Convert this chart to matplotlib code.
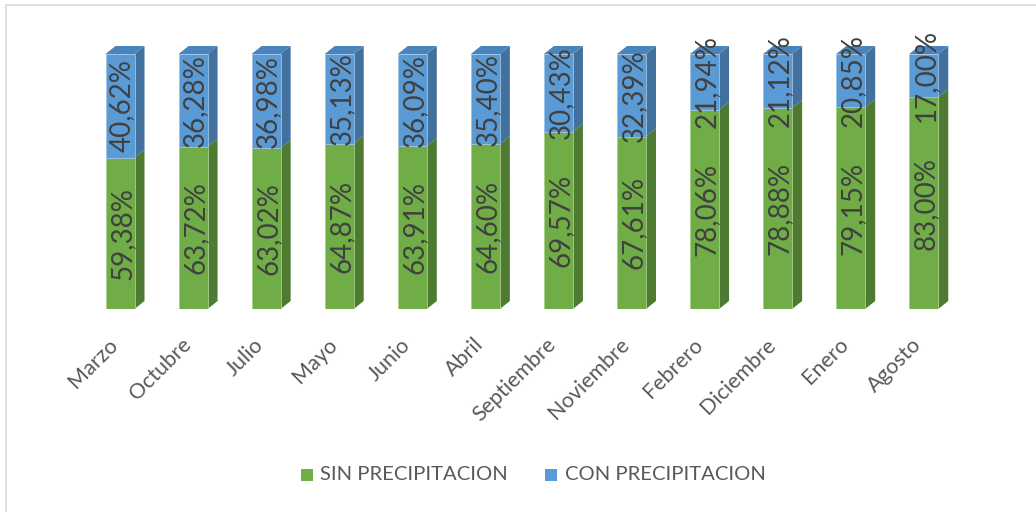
import matplotlib
matplotlib.use("Agg")
import matplotlib.pyplot as plt
from matplotlib.patches import Polygon, Rectangle

plt.rcParams['font.family'] = ['Lato', 'DejaVu Sans']

# meses ordenados por porcentaje de dias sin precipitacion
meses = ["Marzo", "Octubre", "Julio", "Mayo", "Junio", "Abril",
         "Septiembre", "Noviembre", "Febrero", "Diciembre", "Enero", "Agosto"]
sin_precip = [59.38, 63.72, 63.02, 64.87, 63.91, 64.60,
              69.57, 67.61, 78.06, 78.88, 79.15, 83.00]
con_precip = [40.62, 36.28, 36.98, 35.13, 36.09, 35.40,
              30.43, 32.39, 21.94, 21.12, 20.85, 17.00]

verde, verde_lado = "#70AD47", "#4E7A31"
azul, azul_lado, azul_tapa = "#5B9BD5", "#41719C", "#4A84BC"

W, H = 1036, 512
fig = plt.figure(figsize=(W / 100, H / 100), dpi=100)

# ejes en pixeles: centro de Marzo en x=120, paso 73.07; 0% en y=309, 100% en y=54
paso = 73.07
x0 = 120 - paso / 2
ax = fig.add_axes([x0 / W, (H - 309) / H, 12 * paso / W, 255 / H])
ax.set_xlim(-0.5, 11.5)
ax.set_ylim(0, 100)
ax.axis("off")

ancho = 29 / paso
dx = 10 / paso           # profundidad en x
dy = 8 / 255 * 100       # profundidad en y

x = list(range(len(meses)))
ax.bar(x, sin_precip, width=ancho, color=verde, edgecolor="#A9D18E", linewidth=0.6, zorder=2)
ax.bar(x, con_precip, bottom=sin_precip, width=ancho, color=azul, edgecolor="#9DC3E6",
       linewidth=0.6, zorder=2)

for i, (s, c) in enumerate(zip(sin_precip, con_precip)):
    xr = i + ancho / 2
    xl = i - ancho / 2
    top = s + c
    # cara lateral
    ax.add_patch(Polygon([(xr, 0), (xr + dx, dy), (xr + dx, s + dy), (xr, s)],
                         closed=True, facecolor=verde_lado, edgecolor="none",
                         clip_on=False, zorder=1))
    ax.add_patch(Polygon([(xr, s), (xr + dx, s + dy), (xr + dx, top + dy), (xr, top)],
                         closed=True, facecolor=azul_lado, edgecolor="none",
                         clip_on=False, zorder=1))
    # cara superior
    ax.add_patch(Polygon([(xl, top), (xr, top), (xr + dx, top + dy), (xl + dx, top + dy)],
                         closed=True, facecolor=azul_tapa, edgecolor="none",
                         clip_on=False, zorder=1))
    # etiquetas de valor
    ax.text(i + 0.03, s / 2, f"{s:.2f}%".replace(".", ","), rotation=90,
            ha="center", va="center", fontsize=20, color="#404040", zorder=3)
    ax.text(i + 0.03, s + c / 2, f"{c:.2f}%".replace(".", ","), rotation=90,
            ha="center", va="center", fontsize=20, color="#404040", zorder=3,
            clip_on=False)

# etiquetas del eje x
for i, m in enumerate(meses):
    ax.text(i - 0.17, -10, m, rotation=45, rotation_mode="anchor",
            ha="right", va="top", fontsize=15.5, color="#595959")

# leyenda
fig.patches.append(Rectangle((301 / W, (H - 481) / H), 12 / W, 12 / H,
                             transform=fig.transFigure, facecolor=verde, edgecolor="none"))
fig.text(320 / W, (H - 475) / H, "SIN PRECIPITACION", ha="left", va="center",
         fontsize=14.6, color="#595959")
fig.patches.append(Rectangle((545 / W, (H - 481) / H), 12 / W, 12 / H,
                             transform=fig.transFigure, facecolor=azul, edgecolor="none"))
fig.text(565 / W, (H - 475) / H, "CON PRECIPITACION", ha="left", va="center",
         fontsize=14.6, color="#595959")

# borde del grafico
fig.patches.append(Rectangle((6 / W, -0.1), 1.2, (H - 4.5) / H + 0.1,
                             transform=fig.transFigure, facecolor="none",
                             edgecolor="#D9D9D9", linewidth=1.2))

fig.savefig("out.png", dpi=100)
